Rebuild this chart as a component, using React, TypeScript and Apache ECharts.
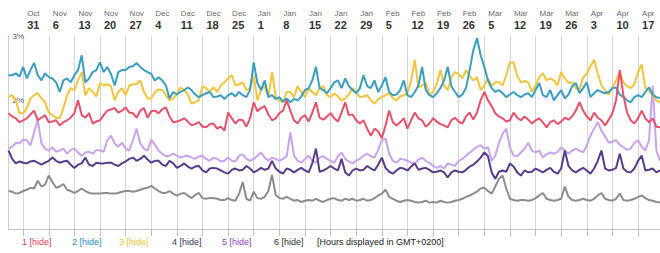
import React, { useEffect, useRef } from "react";
import * as echarts from "echarts";

// Weekly tick labels (top axis)
const tickMonths = ["Oct","Nov","Nov","Nov","Nov","Dec","Dec","Dec","Dec","Jan","Jan","Jan","Jan","Jan","Feb","Feb","Feb","Feb","Mar","Mar","Mar","Mar","Apr","Apr","Apr"];
const tickDays = ["31","6","13","20","27","4","11","18","25","1","8","15","22","29","5","12","19","26","5","12","19","26","3","10","17"];
const FIRST_TICK = 4; // daily index of "Oct 31"
const TICK_STEP = 7;

// Daily values (%), series 1..6
const series1 = [
  1.80,1.75,1.72,1.66,1.69,1.72,1.78,1.84,1.69,1.73,
  1.77,1.66,1.67,1.69,1.61,1.66,1.69,1.73,1.80,2.00,
  1.77,1.73,1.80,1.64,1.67,1.69,1.77,1.84,1.86,1.88,
  1.81,1.84,1.89,1.81,1.80,1.73,1.84,1.88,1.73,1.83,
  1.84,1.80,1.86,1.89,1.75,1.66,1.67,1.69,1.72,1.67,
  1.61,1.63,1.66,1.59,1.58,1.63,1.64,1.56,1.59,
  1.53,1.81,1.72,1.64,1.70,1.69,1.59,1.72,1.97,1.83,
  1.88,1.91,1.78,1.69,1.72,1.80,1.84,2.00,1.84,1.69,
  1.64,1.73,1.77,1.67,1.81,1.97,1.73,1.70,1.75,1.80,
  1.72,1.67,1.81,1.97,1.77,1.78,1.69,1.64,1.69,1.56,
  1.45,1.56,1.52,1.41,1.61,1.84,1.66,1.61,1.66,1.72,
  1.56,1.69,1.81,1.72,1.69,1.59,1.64,1.72,1.67,1.63,
  1.61,1.58,1.69,1.73,1.67,1.64,1.75,1.81,1.70,1.81,
  2.00,2.13,2.00,1.91,1.80,1.75,1.72,1.67,1.69,1.81,
  1.73,1.69,1.75,1.70,1.64,1.69,1.72,1.66,1.58,1.66,
  1.69,1.63,1.67,1.73,1.70,1.75,1.84,1.97,1.84,1.75,
  1.69,1.81,1.73,1.69,1.61,1.70,1.80,2.00,2.47,2.08,
  1.81,1.69,1.64,1.72,1.84,1.72,1.66,1.72,1.59,1.58,
];
const series2 = [
  2.39,2.39,2.42,2.37,2.52,2.34,2.47,2.58,2.39,2.31,
  2.42,2.36,2.34,2.28,2.13,2.31,2.34,2.28,2.39,2.47,
  2.70,2.28,2.34,2.44,2.47,2.59,2.44,2.52,2.41,2.23,
  2.44,2.47,2.47,2.52,2.53,2.58,2.52,2.47,2.44,2.41,
  2.31,2.36,2.31,2.23,2.03,2.13,2.09,2.13,2.16,2.20,
  2.16,2.09,2.05,2.08,2.11,2.13,2.05,2.06,2.08,
  2.02,2.08,2.11,2.06,2.13,2.08,2.05,2.16,2.59,2.27,
  2.16,2.31,2.05,2.08,2.02,2.05,1.98,2.03,1.97,2.02,
  2.00,2.06,2.16,2.19,2.31,2.52,2.19,2.16,2.11,2.19,
  2.28,2.31,2.19,2.34,2.22,2.16,2.11,2.19,2.39,2.22,
  2.19,2.31,2.13,2.23,2.36,2.13,2.08,2.09,2.16,2.31,
  2.08,2.05,2.13,2.23,2.52,2.16,2.08,2.05,2.11,2.19,
  2.31,2.52,2.22,2.13,2.05,2.09,2.19,2.47,2.78,2.97,
  2.70,2.52,2.31,2.19,2.13,2.16,2.11,2.05,2.09,2.13,
  2.08,2.05,2.09,2.11,2.05,2.16,2.27,2.08,2.05,2.16,
  2.00,2.08,2.16,2.03,2.09,2.22,2.27,2.11,2.19,2.28,
  2.05,2.11,2.16,2.13,2.11,2.13,2.19,2.20,2.09,2.05,
  2.00,1.97,2.05,2.08,2.05,2.13,2.20,2.09,2.05,2.03,
];
const series3 = [
  2.05,2.08,2.00,1.80,1.80,1.88,2.03,2.08,2.11,2.03,
  1.97,1.81,1.77,1.73,1.72,1.88,2.08,2.19,2.16,2.31,
  2.44,2.08,2.19,2.13,2.06,2.27,2.23,2.25,2.22,2.00,
  2.13,2.19,2.08,2.23,2.25,2.25,2.31,2.13,2.03,2.03,
  2.13,2.17,2.16,2.08,2.00,2.03,2.09,2.20,2.16,2.09,
  1.95,1.97,2.00,2.22,2.19,2.13,2.20,2.13,2.23,
  2.28,2.34,2.39,2.23,2.25,2.28,2.16,2.19,2.38,2.00,
  2.16,2.22,2.05,2.44,2.06,2.00,1.97,2.13,2.13,2.05,
  2.22,2.13,2.05,2.19,2.13,2.08,2.19,2.22,2.08,2.05,
  2.11,2.06,2.00,2.03,2.09,2.19,2.13,2.05,2.06,2.08,
  2.00,1.95,2.02,2.05,2.08,2.11,2.03,2.00,2.06,2.08,
  2.11,2.31,2.63,2.20,2.23,2.27,2.08,2.13,2.25,2.47,
  2.23,2.16,2.36,2.44,2.41,2.34,2.47,2.38,2.31,2.36,
  2.16,2.23,2.34,2.22,2.28,2.28,2.23,2.39,2.59,2.59,
  2.38,2.28,2.30,2.28,2.13,2.23,2.36,2.42,2.31,2.34,
  2.31,2.23,2.44,2.34,2.27,2.28,2.19,2.16,2.36,2.41,
  2.53,2.63,2.42,2.23,2.16,2.09,2.20,2.31,2.44,2.28,
  2.22,2.19,2.25,2.44,2.56,2.19,2.14,2.08,2.00,1.97,
];
const series4 = [
  1.22,1.09,1.02,1.05,1.03,1.02,1.05,1.06,1.03,1.00,
  1.03,1.06,1.11,1.06,1.03,1.05,1.06,1.00,0.95,1.00,
  1.02,1.11,1.00,0.98,1.03,1.02,1.02,1.03,1.03,1.00,
  0.98,1.02,1.05,1.09,1.11,1.06,1.09,1.14,1.08,1.03,
  1.06,1.06,1.00,0.98,1.06,1.02,0.95,0.98,1.02,0.97,
  0.94,0.97,0.98,0.91,0.88,0.94,0.95,0.94,0.91,
  0.88,0.86,0.92,0.94,0.91,0.92,0.98,0.94,0.88,0.91,
  0.95,0.92,0.94,1.06,0.94,0.89,0.86,0.94,0.92,0.88,
  0.92,0.95,0.91,0.88,1.02,1.25,0.89,0.91,0.94,0.98,
  0.94,0.91,1.09,0.88,0.83,0.91,0.94,0.91,0.92,0.98,
  0.94,0.91,1.00,1.11,0.95,0.89,0.86,0.91,0.95,0.94,
  0.91,0.97,1.02,0.92,0.94,0.95,0.92,0.88,0.89,0.91,
  0.88,0.80,0.88,0.91,0.89,0.88,0.92,0.97,1.00,1.05,
  1.11,1.19,1.13,0.88,0.78,0.89,0.91,0.89,1.02,0.97,
  0.88,0.83,0.91,0.88,0.89,0.94,0.91,0.88,0.92,0.95,
  0.89,0.86,0.94,1.22,0.98,0.91,0.88,0.92,0.95,0.91,
  0.86,0.94,1.06,1.22,0.94,0.91,0.92,0.95,1.17,0.94,
  0.89,0.88,0.94,1.06,1.14,0.91,0.92,0.94,0.88,0.91,
];
const series5 = [
  1.25,1.28,1.34,1.33,1.39,1.38,1.30,1.50,1.69,1.33,
  1.25,1.22,1.27,1.20,1.22,1.25,1.17,1.23,1.25,1.19,
  1.14,1.19,1.20,1.17,1.23,1.22,1.20,1.38,1.45,1.33,
  1.28,1.34,1.25,1.22,1.38,1.56,1.33,1.25,1.22,1.39,
  1.31,1.22,1.17,1.13,1.14,1.17,1.14,1.11,1.13,1.14,
  1.11,1.09,1.13,1.14,1.09,1.06,1.11,1.09,1.05,
  1.06,1.11,1.06,1.05,1.14,1.16,1.09,1.06,1.09,1.14,
  1.19,1.11,1.06,1.11,1.09,1.06,1.09,1.13,1.50,1.14,
  1.06,1.03,1.09,1.14,1.06,1.03,1.11,1.13,1.09,1.06,
  1.03,1.13,1.19,1.09,1.05,1.02,1.06,1.09,1.14,1.17,
  1.13,1.11,1.23,1.38,1.41,1.17,1.06,1.03,1.09,1.08,
  1.06,1.03,1.02,1.08,1.11,1.06,1.03,0.98,0.95,0.98,
  0.94,1.02,1.00,0.98,1.06,1.09,1.14,1.19,1.23,1.28,
  1.30,1.25,1.27,1.06,1.14,1.34,1.48,1.56,1.27,1.14,
  1.13,1.19,1.25,1.34,1.22,1.19,1.22,1.11,1.16,1.19,
  1.17,1.20,1.27,1.22,1.17,1.22,1.25,1.22,1.19,1.30,
  1.45,1.56,1.66,1.53,1.44,1.34,1.36,1.38,1.31,1.27,
  1.23,1.25,1.34,1.38,1.28,1.22,1.38,2.23,1.22,1.06,
];
const series6 = [
  0.59,0.58,0.55,0.56,0.59,0.61,0.64,0.63,0.75,0.66,
  0.69,0.83,0.73,0.64,0.66,0.70,0.61,0.59,0.56,0.59,
  0.63,0.59,0.56,0.55,0.55,0.55,0.56,0.56,0.55,0.55,
  0.56,0.58,0.59,0.59,0.58,0.59,0.61,0.63,0.64,0.67,
  0.63,0.59,0.56,0.56,0.59,0.55,0.52,0.55,0.56,0.52,
  0.48,0.53,0.56,0.48,0.47,0.48,0.48,0.47,0.45,
  0.45,0.48,0.45,0.44,0.55,0.73,0.47,0.44,0.58,0.48,
  0.47,0.50,0.59,0.84,0.53,0.48,0.47,0.50,0.47,0.44,
  0.45,0.42,0.44,0.45,0.44,0.47,0.44,0.42,0.45,0.47,
  0.48,0.45,0.44,0.47,0.45,0.47,0.44,0.45,0.47,0.44,
  0.45,0.48,0.52,0.55,0.61,0.50,0.47,0.44,0.42,0.44,
  0.45,0.44,0.42,0.41,0.42,0.44,0.41,0.42,0.41,0.44,
  0.42,0.41,0.42,0.44,0.45,0.47,0.50,0.52,0.55,0.58,
  0.63,0.64,0.59,0.55,0.66,0.78,0.83,0.63,0.47,0.45,
  0.44,0.45,0.45,0.44,0.45,0.48,0.52,0.56,0.47,0.45,
  0.44,0.45,0.47,0.66,0.50,0.45,0.44,0.45,0.47,0.45,
  0.44,0.47,0.52,0.56,0.47,0.45,0.44,0.47,0.55,0.45,
  0.44,0.45,0.47,0.50,0.52,0.48,0.45,0.44,0.42,0.41,
];

const seriesNames = ["1", "2", "3", "4", "5", "6"];
const seriesData = [series1, series2, series3, series4, series5, series6];
const lineColors = ["#e5506a", "#3a9ec0", "#f2c53e", "#573c8c", "#c9a3ee", "#8c8c8c"];
const legendColors = ["#e0405c", "#2f8cc0", "#f0c33a", "#3b3556", "#8e45c8", "#333333"];
const legendX = [22, 72, 119, 172, 222, 274];
const footnote = "[Hours displayed in GMT+0200]";

const N = series1.length;
const categories = Array.from({ length: N }, (_, i) => String(i));
const isTick = (i: number) => i >= FIRST_TICK && (i - FIRST_TICK) % TICK_STEP === 0;
const FONT = "'Liberation Sans', Arial, sans-serif";

export default function App() {
  const ref = useRef<HTMLDivElement>(null);
  useEffect(() => {
    document.body.style.margin = "0";
    if (!ref.current) return;
    const chart = echarts.init(ref.current, undefined, { renderer: "svg" });
    const graphic: any[] = seriesNames.map((n, k) => ({
      type: "text",
      x: legendX[k],
      y: 242,
      style: {
        text: `${n} [hide]`,
        fill: legendColors[k],
        font: `9px ${FONT}`,
        verticalAlign: "middle",
      },
    }));
    graphic.push({
      type: "text",
      x: 317,
      y: 242,
      style: { text: footnote, fill: "#222", font: `9px ${FONT}`, verticalAlign: "middle" },
    });
    chart.setOption({
      animation: false,
      backgroundColor: "#ffffff",
      grid: { left: 8.5, right: 0, top: 36, bottom: 24, containLabel: false },
      xAxis: [
        {
          type: "category",
          position: "bottom",
          data: categories,
          boundaryGap: false,
          axisLine: { show: true, lineStyle: { color: "#c4c4c4", width: 1 } },
          axisTick: { show: true, interval: (i: number) => isTick(i), length: 7, lineStyle: { color: "#bdbdbd" } },
          splitLine: { show: true, interval: (i: number) => isTick(i), lineStyle: { color: "#d6d6d6", width: 1 } },
          axisLabel: { show: false },
        },
        {
          type: "category",
          position: "top",
          data: categories,
          boundaryGap: false,
          axisLine: { show: false },
          axisTick: { show: false },
          splitLine: { show: false },
          axisLabel: {
            show: true,
            interval: (i: number) => isTick(i),
            align: "left",
            margin: 5,
            padding: [0, 0, 0, 4],
            formatter: (v: string) => {
              const k = (Number(v) - FIRST_TICK) / TICK_STEP;
              return `{m|${tickMonths[k]}}\n{d|${tickDays[k]}}`;
            },
            rich: {
              m: { fontSize: 8, color: "#6a6a6a", lineHeight: 11, fontFamily: FONT },
              d: { fontSize: 11, color: "#333", fontWeight: "bold", lineHeight: 12, fontFamily: FONT },
            },
          },
        },
      ],
      yAxis: {
        type: "value",
        min: 0,
        max: 3,
        interval: 1,
        axisLine: { show: true, lineStyle: { color: "#cfcfcf" } },
        axisTick: { show: false },
        splitLine: { show: false },
        axisLabel: {
          inside: true,
          margin: 4,
          fontSize: 8,
          color: "#555",
          fontFamily: FONT,
          formatter: (v: number) => (v >= 2 ? `${v}%` : ""),
        },
      },
      series: seriesData.map((d, k) => ({
        name: seriesNames[k],
        type: "line",
        xAxisIndex: 0,
        data: d,
        showSymbol: false,
        symbol: "none",
        smooth: false,
        lineStyle: { color: lineColors[k], width: 2 },
        itemStyle: { color: lineColors[k] },
        z: 2 + (5 - k),
      })),
      graphic,
    });
    return () => chart.dispose();
  }, []);
  return <div ref={ref} style={{ width: 660, height: 253 }} />;
}
